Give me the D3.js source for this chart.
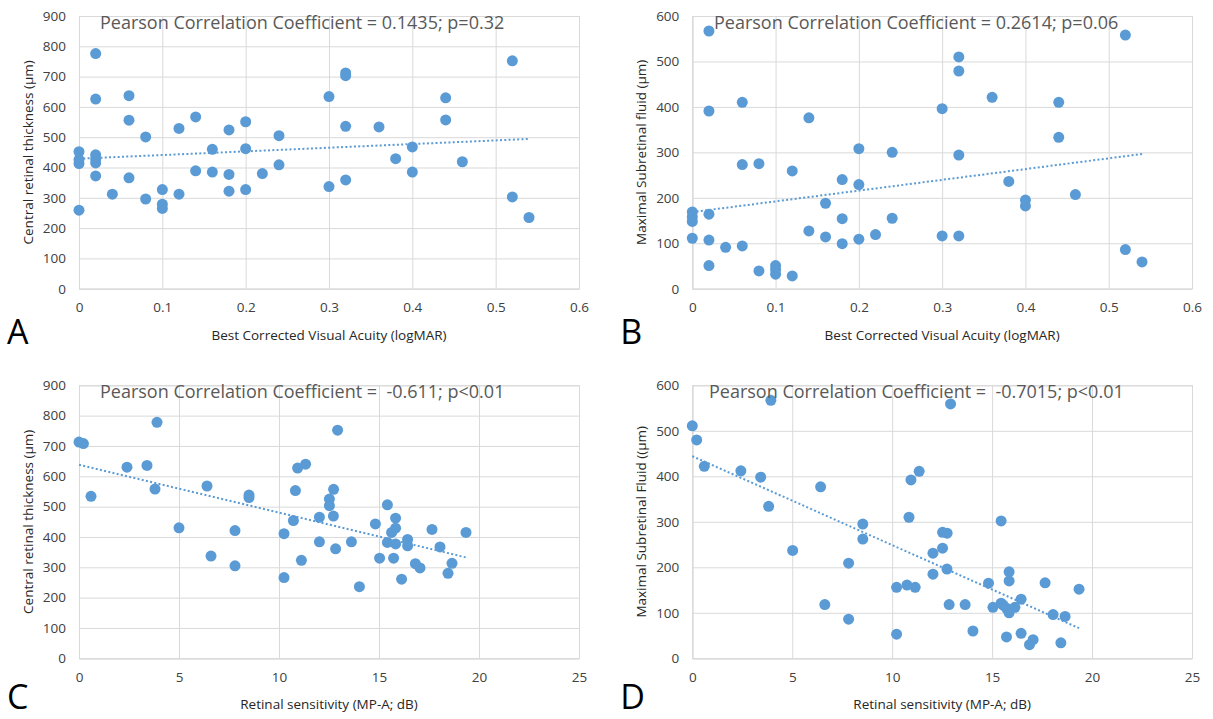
<!DOCTYPE html>
<html>
<head>
<meta charset="utf-8">
<script src="https://cdn.jsdelivr.net/npm/d3@7"></script>
<style>
  body { margin: 0; background: #fff; }
  svg { display: block; font-family: "Open Sans", sans-serif; }
</style>
</head>
<body>
<svg width="1213" height="719"></svg>
<script>
// panel A: BCVA vs central retinal thickness
var acuityA = [0, 0, 0, 0, 0.02, 0.02, 0.02, 0.02, 0.02, 0.02, 0.04, 0.06, 0.06, 0.06, 0.08, 0.08,
  0.1, 0.1, 0.1, 0.12, 0.12, 0.14, 0.14, 0.16, 0.16, 0.18, 0.18, 0.18, 0.2, 0.2, 0.2, 0.22, 0.24, 0.24,
  0.3, 0.3, 0.32, 0.32, 0.32, 0.32, 0.36, 0.38, 0.4, 0.4, 0.44, 0.44, 0.46, 0.52, 0.52, 0.54];
var thicknessA = [452, 426, 413, 259, 776, 626, 442, 428, 415, 372, 312, 637, 556, 366, 501, 296,
  327, 279, 265, 529, 312, 567, 389, 460, 385, 524, 377, 322, 551, 462, 327, 380, 505, 409,
  634, 337, 712, 703, 536, 359, 534, 429, 468, 385, 630, 557, 419, 752, 303, 235];

// panel B: BCVA vs maximal subretinal fluid
var acuityB = [0, 0, 0, 0, 0.02, 0.02, 0.02, 0.02, 0.02, 0.04, 0.06, 0.06, 0.06, 0.08, 0.08,
  0.1, 0.1, 0.1, 0.12, 0.12, 0.14, 0.14, 0.16, 0.16, 0.18, 0.18, 0.18, 0.2, 0.2, 0.2, 0.22, 0.24, 0.24,
  0.3, 0.3, 0.32, 0.32, 0.32, 0.32, 0.36, 0.38, 0.4, 0.4, 0.44, 0.44, 0.46, 0.52, 0.52, 0.54];
var fluidB = [169, 158, 148, 111, 567, 391, 164, 107, 51, 91, 410, 273, 94, 275, 39,
  51, 42, 32, 259, 28, 376, 127, 188, 114, 240, 154, 99, 308, 229, 109, 119, 300, 155,
  396, 116, 510, 479, 294, 116, 421, 236, 195, 182, 410, 333, 207, 558, 86, 59];

// panel C: retinal sensitivity vs central retinal thickness
var sensC = [0, 0.22, 0.6, 2.4, 3.4, 3.8, 3.9, 5.0, 6.4, 6.6, 7.8, 7.8, 8.5, 8.5,
  10.25, 10.25, 10.72, 10.82, 10.93, 11.12, 11.33, 12.02, 12.02, 12.52, 12.52, 12.72, 12.73, 12.83,
  12.93, 13.62, 14.02, 14.82, 15.03, 15.42, 15.42, 15.63, 15.73, 15.83, 15.83, 15.83, 16.13,
  16.43, 16.43, 16.82, 17.05, 17.65, 18.05, 18.45, 18.65, 19.35];
var thicknessC = [713, 708, 534, 630, 636, 558, 778, 430, 568, 337, 421, 305, 538, 530,
  411, 266, 454, 553, 627, 323, 640, 465, 384, 525, 503, 469, 557, 361,
  752, 384, 236, 443, 330, 506, 382, 415, 330, 462, 429, 377, 261,
  392, 371, 312, 298, 425, 367, 280, 313, 415];

// panel D: retinal sensitivity vs maximal subretinal fluid
var sensD = [0, 0.22, 0.6, 2.43, 3.42, 3.82, 3.93, 5.02, 6.42, 6.63, 7.82, 7.82, 8.53, 8.53,
  10.22, 10.22, 10.74, 10.84, 10.94, 11.15, 11.35, 12.04, 12.04, 12.52, 12.52, 12.74, 12.75, 12.85,
  12.92, 13.65, 14.04, 14.82, 15.04, 15.45, 15.45, 15.55, 15.72, 15.72, 15.85, 15.85, 15.85,
  16.14, 16.45, 16.45, 16.87, 17.05, 17.65, 18.05, 18.44, 18.65, 19.35];
var fluidD = [511, 480, 422, 412, 398, 334, 567, 237, 377, 118, 209, 86, 295, 262,
  156, 53, 161, 310, 392, 156, 411, 231, 185, 277, 242, 196, 275, 118,
  559, 118, 60, 165, 112, 302, 121, 117, 110, 47, 190, 170, 100,
  112, 130, 55, 30, 41, 166, 96, 34, 92, 152];

var acuityTicks = [0, 0.1, 0.2, 0.3, 0.4, 0.5, 0.6];
var sensTicks = [0, 5, 10, 15, 20, 25];
var thicknessTicks = [0, 100, 200, 300, 400, 500, 600, 700, 800, 900];
var fluidTicks = [0, 100, 200, 300, 400, 500, 600];

var panels = [
  {letter: "A", xs: acuityA, ys: thicknessA, xTicks: acuityTicks, yTicks: thicknessTicks,
   left: 79, right: 579, top: 16, bottom: 288.7, letterY: 344,
   xTitle: "Best Corrected Visual Acuity (logMAR)", yTitle: "Central retinal thickness (\u03bcm)",
   note: "Pearson Correlation Coefficient = 0.1435; p=0.32", noteX: 100},
  {letter: "B", xs: acuityB, ys: fluidB, xTicks: acuityTicks, yTicks: fluidTicks,
   left: 692.3, right: 1192, top: 16, bottom: 288.7, letterY: 344,
   xTitle: "Best Corrected Visual Acuity (logMAR)", yTitle: "Maximal Subretinal fluid (\u03bcm)",
   note: "Pearson Correlation Coefficient = 0.2614; p=0.06", noteX: 714},
  {letter: "C", xs: sensC, ys: thicknessC, xTicks: sensTicks, yTicks: thicknessTicks,
   left: 79, right: 579, top: 385.3, bottom: 658.3, letterY: 709,
   xTitle: "Retinal sensitivity (MP-A; dB)", yTitle: "Central retinal thickness (\u03bcm)",
   note: "Pearson Correlation Coefficient =  -0.611; p<0.01", noteX: 100},
  {letter: "D", xs: sensD, ys: fluidD, xTicks: sensTicks, yTicks: fluidTicks,
   left: 692.3, right: 1192, top: 385.3, bottom: 658.3, letterY: 709,
   xTitle: "Retinal sensitivity (MP-A; dB)", yTitle: "Maximal Subretinal Fluid ((\u03bcm)",
   note: "Pearson Correlation Coefficient =  -0.7015; p<0.01", noteX: 709}
];

var svg = d3.select("svg");
var blue = "#5b9bd5";
var grid = "#d9d9d9";
var tickColor = "#404040";

panels.forEach(function (p) {
  var x = d3.scaleLinear()
    .domain(d3.extent(p.xTicks))
    .range([p.left, p.right]);
  var y = d3.scaleLinear()
    .domain(d3.extent(p.yTicks))
    .range([p.bottom, p.top]);

  var g = svg.append("g");

  // gridlines
  g.append("g")
    .attr("transform", "translate(0," + p.bottom + ")")
    .call(d3.axisBottom(x).tickValues(p.xTicks).tickSize(-(p.bottom - p.top)).tickFormat(""))
    .call(function (a) { a.select(".domain").attr("stroke", grid); a.selectAll("line").attr("stroke", grid); });
  g.append("g")
    .attr("transform", "translate(" + p.left + ",0)")
    .call(d3.axisLeft(y).tickValues(p.yTicks).tickSize(-(p.right - p.left)).tickFormat(""))
    .call(function (a) { a.select(".domain").attr("stroke", grid); a.selectAll("line").attr("stroke", grid); });

  // tick labels
  g.append("g")
    .attr("transform", "translate(0," + p.bottom + ")")
    .call(d3.axisBottom(x).tickValues(p.xTicks).tickSize(0).tickPadding(14).tickFormat(d3.format("")))
    .call(function (a) {
      a.select(".domain").remove();
      a.selectAll("text").attr("font-size", 13.5).attr("fill", tickColor).attr("font-family", "Open Sans");
    });
  g.append("g")
    .attr("transform", "translate(" + p.left + ",0)")
    .call(d3.axisLeft(y).tickValues(p.yTicks).tickSize(0).tickPadding(13))
    .call(function (a) {
      a.select(".domain").remove();
      a.selectAll("text").attr("font-size", 13.5).attr("fill", tickColor).attr("font-family", "Open Sans");
    });

  // linear trendline over the data range
  var pts = p.xs.map(function (v, i) { return [v, p.ys[i]]; });
  var mx = d3.mean(p.xs), my = d3.mean(p.ys);
  var sxy = d3.sum(pts, function (d) { return (d[0] - mx) * (d[1] - my); });
  var sxx = d3.sum(p.xs, function (v) { return (v - mx) * (v - mx); });
  var slope = sxy / sxx, icpt = my - slope * mx;
  var ext = d3.extent(p.xs);
  g.append("line")
    .attr("x1", x(ext[0])).attr("y1", y(icpt + slope * ext[0]))
    .attr("x2", x(ext[1])).attr("y2", y(icpt + slope * ext[1]))
    .attr("stroke", blue)
    .attr("stroke-width", 2)
    .attr("stroke-dasharray", "2,2.3");

  g.append("g").selectAll("circle")
    .data(pts)
    .enter().append("circle")
    .attr("cx", function (d) { return x(d[0]); })
    .attr("cy", function (d) { return y(d[1]); })
    .attr("r", 5.5)
    .attr("fill", blue);

  // annotation
  g.append("text")
    .attr("x", p.noteX)
    .attr("y", p.top + 13)
    .attr("font-size", 18)
    .attr("fill", "#595959")
    .attr("xml:space", "preserve")
    .style("white-space", "pre")
    .text(p.note);

  // axis titles
  g.append("text")
    .attr("x", (p.left + p.right) / 2)
    .attr("y", p.bottom + 51)
    .attr("text-anchor", "middle")
    .attr("font-size", 13.5)
    .attr("fill", "#262626")
    .text(p.xTitle);
  g.append("text")
    .attr("transform", "translate(" + (p.left - 51) + "," + ((p.top + p.bottom) / 2) + ") rotate(-90)")
    .attr("text-anchor", "middle")
    .attr("dy", "0.35em")
    .attr("font-size", 13.5)
    .attr("fill", "#262626")
    .text(p.yTitle);

  // panel letter
  g.append("text")
    .attr("x", p.left - 72)
    .attr("y", p.letterY)
    .attr("font-size", 34)
    .attr("fill", "#000")
    .text(p.letter);
});
</script>
</body>
</html>
